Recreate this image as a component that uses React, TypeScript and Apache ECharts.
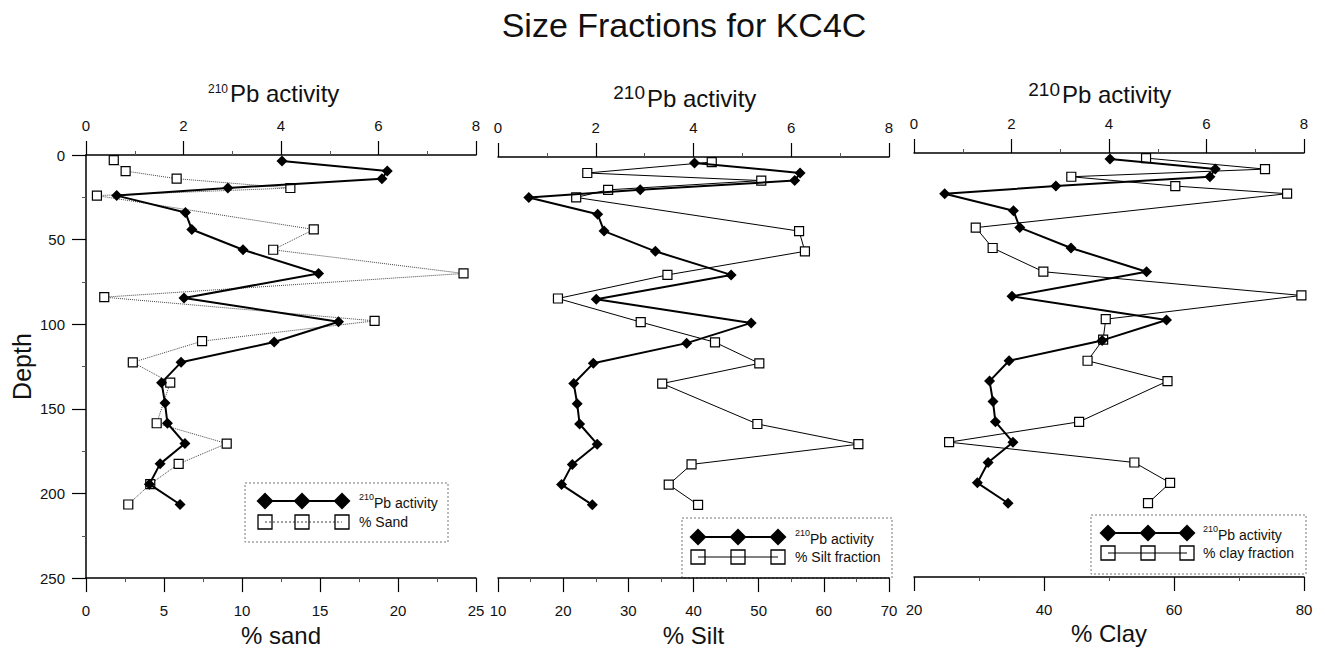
import React, { useEffect, useRef } from "react";
import * as echarts from "echarts";

// ---- data ----
const pbDepth = [3.5, 9.5, 14, 19.5, 24, 34, 44, 56, 70, 84.5, 98.5, 110.5, 122.5, 134.5, 146.5, 158.5, 170.5, 182.5, 194.5, 206.5];
const pbActivity = [4.02, 6.18, 6.07, 2.91, 0.63, 2.04, 2.17, 3.22, 4.77, 2.01, 5.18, 3.86, 1.95, 1.55, 1.62, 1.67, 2.03, 1.52, 1.3, 1.93];

const fracDepth = [3, 9.5, 14, 19.5, 24, 44, 56, 70, 84, 98, 110, 122.5, 134.5, 158.5, 170.5, 182.5, 194.5, 206.5];
const sandPct = [1.78, 2.54, 5.81, 13.1, 0.7, 14.6, 12.0, 24.2, 1.17, 18.5, 7.44, 3.0, 5.4, 4.53, 9.02, 5.94, 4.12, 2.71];
const siltPct = [42.8, 23.7, 50.4, 26.9, 22.0, 56.2, 57.1, 36.0, 19.2, 31.9, 43.3, 50.1, 35.2, 49.8, 65.3, 39.7, 36.2, 40.7];
const clayPct = [55.7, 74.0, 44.2, 60.2, 77.4, 29.5, 32.1, 39.9, 79.6, 49.5, 49.1, 46.7, 59.0, 45.4, 25.4, 53.9, 59.4, 56.0];

const fracAxisNames = ["% sand", "% Silt", "% Clay"];
const fracLegendNames = ["% Sand", "% Silt fraction", "% clay fraction"];
const fracMin = [0, 10, 20];
const fracMax = [25, 70, 80];
const fracInterval = [5, 10, 20];
const pbMin = 0;
const pbMax = 8;
const pbInterval = 2;
const depthMin = 0;
const depthMax = 250;
const depthInterval = 50;

const FONT = '"Liberation Sans", Arial, Helvetica, sans-serif';
const INK = "#111";

const pairs = (xs: number[], ys: number[]) => xs.map((v, i) => [v, ys[i]]);

const grids = [
  { left: 86, top: 155, width: 390, height: 424 },
  { left: 498, top: 157, width: 391, height: 425 },
  { left: 914, top: 153, width: 390, height: 424 },
];

function legendGraphic(
  x: number, y: number, w: number, h: number,
  r1: number, r2: number, mx: number[], tx: number, label: string, dotted: boolean
) {
  const children: any[] = [];
  children.push({
    type: "rect",
    shape: { x, y, width: w, height: h },
    style: { fill: "#fff", stroke: "#777", lineWidth: 1, lineDash: [2, 2] },
  });
  children.push({
    type: "line",
    shape: { x1: mx[0], y1: r1, x2: mx[2], y2: r1 },
    style: { stroke: "#000", lineWidth: 2 },
  });
  mx.forEach((cx) =>
    children.push({
      type: "polygon",
      shape: { points: [[cx, r1 - 8.5], [cx + 8.5, r1], [cx, r1 + 8.5], [cx - 8.5, r1]] },
      style: { fill: "#000" },
    })
  );
  children.push({
    type: "line",
    shape: { x1: mx[0], y1: r2, x2: mx[2], y2: r2 },
    style: { stroke: dotted ? "#444" : "#000", lineWidth: 1, lineDash: dotted ? [2, 2] : null },
  });
  mx.forEach((cx) =>
    children.push({
      type: "rect",
      shape: { x: cx - 7, y: r2 - 7, width: 14, height: 14 },
      style: { fill: "none", stroke: "#000", lineWidth: 1.3 },
    })
  );
  children.push({
    type: "text",
    x: tx,
    y: r1,
    style: {
      text: "{s|210}{m|Pb activity}",
      verticalAlign: "middle",
      align: "left",
      rich: {
        s: { fontSize: 9, fontFamily: FONT, fill: INK, verticalAlign: "top", lineHeight: 16 },
        m: { fontSize: 14, fontFamily: FONT, fill: INK, verticalAlign: "bottom", lineHeight: 18 },
      },
    },
  });
  children.push({
    type: "text",
    x: tx,
    y: r2,
    style: { text: label, fontSize: 14, fontFamily: FONT, fill: INK, verticalAlign: "middle", align: "left" },
  });
  return { type: "group", children };
}

// panel heading "210Pb activity": superscript part ends at splitX, main text starts there
function heading(splitX: number, supY: number, supSize: number, mainY: number) {
  return {
    type: "group",
    children: [
      {
        type: "text",
        x: splitX - 1,
        y: supY,
        style: { text: "210", fontSize: supSize, fontFamily: FONT, fill: INK, align: "right", verticalAlign: "middle" },
      },
      {
        type: "text",
        x: splitX + 1,
        y: mainY,
        style: { text: "Pb activity", fontSize: 24, fontFamily: FONT, fill: INK, align: "left", verticalAlign: "middle" },
      },
    ],
  };
}

export default function App() {
  const ref = useRef<HTMLDivElement>(null);
  useEffect(() => {
    document.body.style.margin = "0";
    if (!ref.current) return;
    const chart = echarts.init(ref.current, undefined, { renderer: "svg" });

    const xAxes: any[] = [];
    const yAxes: any[] = [];
    const series: any[] = [];
    const fracData = [sandPct, siltPct, clayPct];

    grids.forEach((_, i) => {
      xAxes.push({
        type: "value",
        gridIndex: i,
        position: "top",
        min: pbMin,
        max: pbMax,
        interval: pbInterval,
        axisLine: { show: true, lineStyle: { color: "#000", width: 1.5 } },
        axisTick: { show: true, length: 14, lineStyle: { color: "#000", width: 1.2 } },
        minorTick: { show: true, splitNumber: 2, length: 4, lineStyle: { color: "#555", width: 1 } },
        axisLabel: { margin: 22, fontSize: 15, color: INK, fontFamily: FONT },
        splitLine: { show: false },
      });
      xAxes.push({
        type: "value",
        gridIndex: i,
        position: "bottom",
        min: fracMin[i],
        max: fracMax[i],
        interval: fracInterval[i],
        name: fracAxisNames[i],
        nameLocation: "middle",
        nameGap: 39,
        nameTextStyle: { fontSize: 24, color: INK, fontFamily: FONT },
        axisLine: { show: true, lineStyle: { color: "#000", width: 1.5 } },
        axisTick: { show: true, length: 14, lineStyle: { color: "#000", width: 1.2 } },
        minorTick: { show: true, splitNumber: 2, length: 4, lineStyle: { color: "#555", width: 1 } },
        axisLabel: { margin: 25, fontSize: 15, color: INK, fontFamily: FONT },
        splitLine: { show: false },
      });
      yAxes.push({
        type: "value",
        gridIndex: i,
        inverse: true,
        min: depthMin,
        max: depthMax,
        interval: depthInterval,
        name: i === 0 ? "Depth" : "",
        nameLocation: "middle",
        nameGap: 52,
        nameTextStyle: { fontSize: 25, color: INK, fontFamily: FONT },
        axisLine: { show: i === 0, lineStyle: { color: "#000", width: 1.5 } },
        axisTick: { show: i === 0, length: 14, lineStyle: { color: "#000", width: 1.2 } },
        minorTick: { show: i === 0, splitNumber: 2, length: 4, lineStyle: { color: "#555", width: 1 } },
        axisLabel: { show: i === 0, margin: 21, fontSize: 15, color: INK, fontFamily: FONT },
        splitLine: { show: false },
      });
      series.push({
        type: "line",
        name: "210Pb activity",
        xAxisIndex: 2 * i,
        yAxisIndex: i,
        data: pairs(pbActivity, pbDepth),
        symbol: "diamond",
        symbolSize: 11,
        lineStyle: { color: "#000", width: 2 },
        itemStyle: { color: "#000" },
        z: 3,
      });
      series.push({
        type: "line",
        name: fracLegendNames[i],
        xAxisIndex: 2 * i + 1,
        yAxisIndex: i,
        data: pairs(fracData[i], fracDepth),
        symbol: "rect",
        symbolSize: 9,
        lineStyle: { color: i === 0 ? "#444" : "#000", width: 1, type: i === 0 ? "dotted" : "solid" },
        itemStyle: { color: "#fff", borderColor: "#000", borderWidth: 1.2 },
        z: 2,
      });
    });

    chart.setOption({
      animation: false,
      backgroundColor: "#fff",
      title: {
        text: "Size Fractions for KC4C",
        left: 684,
        top: 5,
        padding: 0,
        textAlign: "center",
        textStyle: { fontSize: 34, fontWeight: "normal", color: INK, fontFamily: FONT, lineHeight: 40 },
      },
      grid: grids.map((g) => ({ ...g, containLabel: false })),
      xAxis: xAxes,
      yAxis: yAxes,
      series,
      graphic: [
        heading(229, 89, 12, 93.5),
        heading(646, 92.5, 19, 98.7),
        heading(1061, 89.5, 19, 94.7),
        legendGraphic(245, 483, 203, 59, 501, 522, [265, 302, 342], 359, fracLegendNames[0], true),
        legendGraphic(682, 518, 210, 60, 537, 557, [698, 738, 778], 795, fracLegendNames[1], false),
        legendGraphic(1091, 515, 215, 59, 533, 553, [1108, 1148, 1187], 1203, fracLegendNames[2], false),
      ],
    });
    return () => chart.dispose();
  }, []);
  return <div ref={ref} style={{ width: 1325, height: 652 }} />;
}
